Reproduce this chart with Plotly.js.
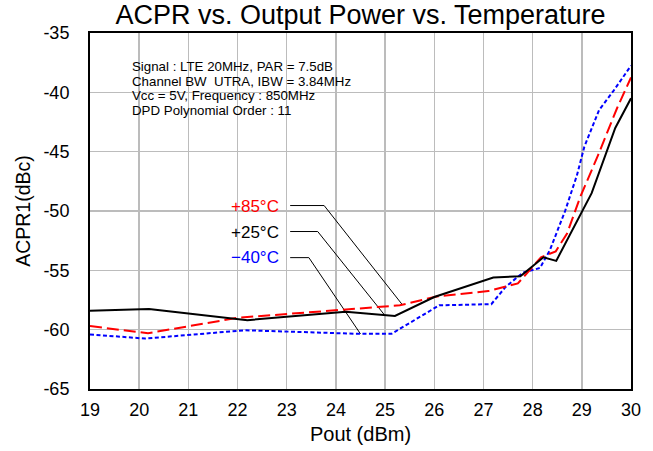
<!DOCTYPE html>
<html>
<head>
<meta charset="utf-8">
<script src="https://cdn.plot.ly/plotly-3.0.1.min.js"></script>
<style>html,body{margin:0;padding:0;background:#fff;}#chart{width:653px;height:451px;}</style>
</head>
<body>
<div id="chart"></div>
<script>
// Series: ACPR1 (dBc) vs Pout (dBm)
var x25 = [19, 20.2, 22.2, 24.2, 25.2, 26.0, 27.2, 27.75, 28.22, 28.48, 29.2, 29.68, 30];
var y25 = [-58.4, -58.25, -59.2, -58.5, -58.85, -57.25, -55.6, -55.5, -53.9, -54.2, -48.5, -43.0, -40.5];

var x85 = [19, 20.18, 22.0, 25.3, 26.05, 27.1, 27.7, 28.17, 28.47, 28.7, 28.97, 29.32, 29.72, 30];
var y85 = [-59.7, -60.3, -59.0, -57.95, -57.2, -56.75, -56.1, -53.9, -53.4, -51.9, -48.8, -45.4, -41.3, -38.75];

var xm40 = [19, 20.12, 22.15, 24.46, 25.13, 26.1, 27.16, 27.45, 27.8, 28.15, 28.35, 28.66, 28.9, 29.05, 29.35, 29.64, 30];
var ym40 = [-60.4, -60.75, -60.05, -60.35, -60.35, -57.95, -57.85, -56.4, -55.2, -54.8, -53.3, -50.0, -47.0, -44.6, -41.5, -39.9, -37.75];

// Label leader lines
var lead85x = [23.07, 23.76, 25.34], lead85y = [-49.54, -49.54, -57.84];
var lead25x = [23.07, 23.63, 24.98], lead25y = [-51.73, -51.73, -58.72];
var leadm40x = [23.07, 23.45, 24.5], leadm40y = [-53.93, -53.93, -60.36];

var labels = ['+85°C', '+25°C', '\u221240°C'];
var labelY = [-49.62, -51.77, -53.96];
var labelColors = ['#ff0000', '#000000', '#0000ff'];

var xTicks = [19, 20, 21, 22, 23, 24, 25, 26, 27, 28, 29, 30];
var yTicks = [-35, -40, -45, -50, -55, -60, -65];

var infoLines = ['Signal : LTE 20MHz, PAR = 7.5dB', 'Channel BW  UTRA, IBW = 3.84MHz', 'Vcc = 5V, Frequency : 850MHz', 'DPD Polynomial Order : 11'];
var infoY = [-37.81, -39.08, -40.28, -41.52];

var FONT = 'Liberation Sans, Arial, sans-serif';

function lead(x, y) {
  return {x: x, y: y, mode: 'lines', line: {color: '#000', width: 1}, hoverinfo: 'skip', showlegend: false};
}

var traces = [
  lead(lead85x, lead85y), lead(lead25x, lead25y), lead(leadm40x, leadm40y),
  {x: xm40, y: ym40, mode: 'lines', name: '-40°C', line: {color: '#0000ff', width: 2, dash: '4px,2.5px'}},
  {x: x85, y: y85, mode: 'lines', name: '+85°C', line: {color: '#ff0000', width: 2, dash: '12px,5px'}},
  {x: x25, y: y25, mode: 'lines', name: '+25°C', line: {color: '#000000', width: 2}}
];

var annotations = labels.map(function (t, i) {
  return {x: 22.89, y: labelY[i], xref: 'x', yref: 'y', text: t, showarrow: false,
    xanchor: 'right', yanchor: 'middle', font: {family: FONT, size: 17, color: labelColors[i]}};
});
infoLines.forEach(function (t, i) {
  annotations.push({x: 19.82, y: infoY[i], xref: 'x', yref: 'y', text: t, showarrow: false,
    xanchor: 'left', yanchor: 'middle', align: 'left', font: {family: FONT, size: 13.3, color: '#000'}});
});

var layout = {
  width: 653, height: 451,
  margin: {l: 90, r: 22, t: 33, b: 62},
  paper_bgcolor: '#fff', plot_bgcolor: '#fff',
  showlegend: false,
  font: {family: FONT, color: '#000'},
  title: {text: 'ACPR vs. Output Power vs. Temperature', font: {family: FONT, size: 27, color: '#000'},
    xref: 'paper', x: 0.5, xanchor: 'center', y: 0.967, yanchor: 'middle'},
  xaxis: {range: [19, 30], tickvals: xTicks, ticktext: xTicks.map(String), showgrid: true, gridcolor: '#bcbcbc', gridwidth: 1.5,
    zeroline: false, showline: true, linecolor: '#000', linewidth: 2, mirror: true, ticks: '', ticklabelstandoff: 3,
    tickfont: {family: FONT, size: 18, color: '#000'},
    title: {text: 'Pout (dBm)', font: {family: FONT, size: 20, color: '#000'}, standoff: 8}},
  yaxis: {range: [-65, -35], tickvals: yTicks, ticktext: yTicks.map(String), showgrid: true, gridcolor: '#bcbcbc', gridwidth: 1.5,
    zeroline: false, showline: true, linecolor: '#000', linewidth: 2, mirror: true, ticks: '', ticklabelstandoff: 15,
    tickfont: {family: FONT, size: 18, color: '#000'},
    title: {text: 'ACPR1(dBc)', font: {family: FONT, size: 19.5, color: '#000'}, standoff: 8}},
  shapes: [
    {type: 'rect', xref: 'x', yref: 'y', x0: 19.63, x1: 24.67, y0: -42.67, y1: -36.85, fillcolor: '#fff', line: {width: 0}, layer: 'below'},
    {type: 'rect', xref: 'x', yref: 'y', x0: 21.745, x1: 23.05, y0: -55.1, y1: -48.48, fillcolor: '#fff', line: {width: 0}, layer: 'below'}
  ],
  annotations: annotations
};

Plotly.newPlot('chart', traces, layout, {displayModeBar: false, staticPlot: true});
</script>
</body>
</html>
